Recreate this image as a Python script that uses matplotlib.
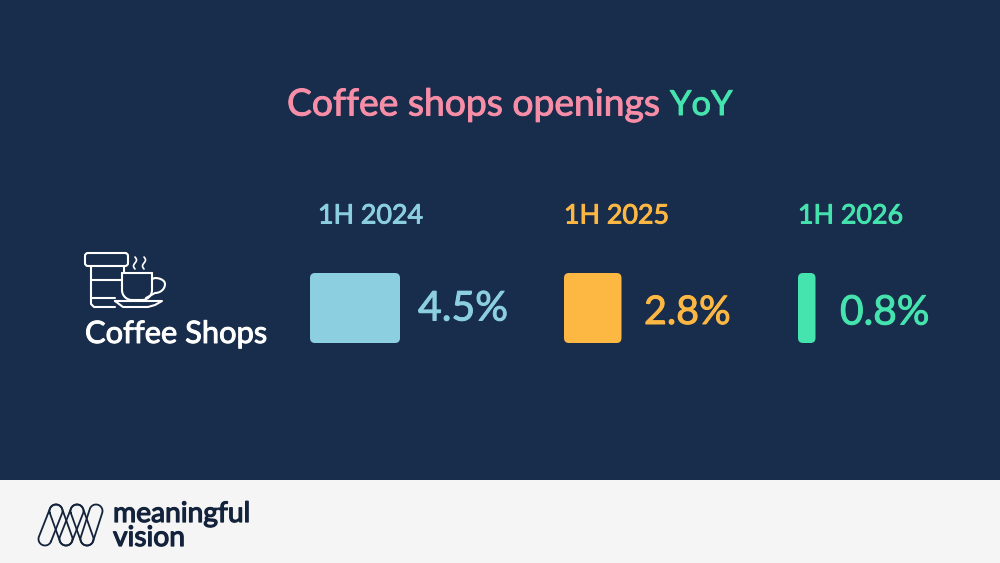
import numpy as np
import matplotlib
matplotlib.use('Agg')
import matplotlib.pyplot as plt
import matplotlib.patheffects as pe
from matplotlib.patches import FancyBboxPatch, Rectangle

periods = ['1H 2024', '1H 2025', '1H 2026']
values = [4.5, 2.8, 0.8]
value_labels = ['4.5%', '2.8%', '0.8%']
row_label = 'Coffee Shops'

NAVY = '#182d4b'
colors = ['#8ccfe0', '#fdb743', '#45e3ad']
PINK = '#f78da7'
FOOT = '#f5f5f5'
INK = '#14233c'

plt.rcParams['font.family'] = ['Lato', 'DejaVu Sans']

fig = plt.figure(figsize=(10, 5.63), dpi=100, facecolor=NAVY)
ax = fig.add_axes([0, 0, 1, 1])
ax.set_xlim(0, 1000)
ax.set_ylim(563, 0)
ax.axis('off')

ax.add_patch(Rectangle((0, 480), 1000, 83, color=FOOT, lw=0))


def label(x, y, s, c, size, thick=0.7):
    # Lato has no medium weight, thicken it a bit
    t = ax.text(x, y, s, color=c, fontsize=size, va='center')
    t.set_path_effects([pe.withStroke(linewidth=thick, foreground=c)])
    return t


label(287, 105, 'Coffee shops openings', PINK, 26.8)
label(670, 105, 'YoY', colors[2], 24.8)

bar_x = [310, 564, 798]
label_x = [318, 564, 798]
val_x = [418, 644, 840]
val_size = [29.5, 28.4, 29.3]
px_per_unit = 20
bar_top = 273
bar_h = 70

for i in range(3):
    w = values[i] * px_per_unit
    if i > 0:
        w += 1.5
    r = 5
    ax.add_patch(FancyBboxPatch((bar_x[i] + r, bar_top + r), w - 2 * r, bar_h - 2 * r,
                                boxstyle='round,pad=%d,rounding_size=%d' % (r, r),
                                fc=colors[i], ec='none'))
    label(label_x[i], 216, periods[i], colors[i], 19.3)
    label(val_x[i], 309 if i == 0 else 313, value_labels[i], colors[i], val_size[i])

label(85, 334, row_label, 'white', 22.2)


# coffee icon, only decoration
def stroke(xs, ys, c='white', lw=1.5):
    ax.plot(xs, ys, color=c, lw=lw, solid_capstyle='round', solid_joinstyle='round')


ax.add_patch(FancyBboxPatch((87, 255), 39, 9, boxstyle='round,pad=2,rounding_size=3', fc='none', ec='white', lw=1.5))
stroke([91, 91, 94, 115], [266, 304, 307, 307])
stroke([124, 124], [266, 273])
stroke([91, 122], [280, 280])
stroke([91, 115], [298, 298])

a = np.linspace(0, np.pi / 2, 20)
stroke(np.r_[122, 122 + 10 * (1 - np.cos(a)), 142 + 10 * np.sin(a), 152],
       np.r_[273, 290 + 10 * np.sin(a), 290 + 10 * np.cos(a), 273])
stroke([122, 152], [273, 273])
h = np.linspace(-np.pi / 2, np.pi / 2, 30)
stroke(np.r_[152, 155 + 10 * np.cos(h), 146],
       np.r_[279, 284 + 6 * np.sin(h) + 3 * (h > 0) * np.sin(h), 298])
stroke([115, 162, 155, 148, 123, 115], [301, 301, 305, 307, 307, 301])

for sx in [135, 144]:
    sy = np.linspace(257, 269, 30)
    stroke(sx + 1.5 * np.sin((sy - 257) / 12 * 2 * np.pi), sy, lw=1.2)


# logo, slanted loops
def loop(x0, y0, x1, y1, r=6.5):
    ang = np.arctan2(y1 - y0, x1 - x0)
    t = np.linspace(np.pi / 2, 3 * np.pi / 2, 30)
    xs = np.r_[x0 + r * np.cos(ang + t), x1 + r * np.cos(ang + t + np.pi)]
    ys = np.r_[y0 + r * np.sin(ang + t), y1 + r * np.sin(ang + t + np.pi)]
    stroke(np.r_[xs, xs[0]], np.r_[ys, ys[0]], c=INK, lw=1.3)


for p, q in [((45, 539), (56, 511)), ((56, 511), (66, 539)), ((66, 539), (77, 511)),
             ((77, 511), (87, 539)), ((87, 539), (96, 511))]:
    loop(p[0], p[1], q[0], q[1])

label(113, 514, 'meaningful', INK, 20.3, thick=0.9)
label(113, 538, 'vision', INK, 20.3, thick=0.9)

fig.savefig('out.png', dpi=100, facecolor=NAVY)
